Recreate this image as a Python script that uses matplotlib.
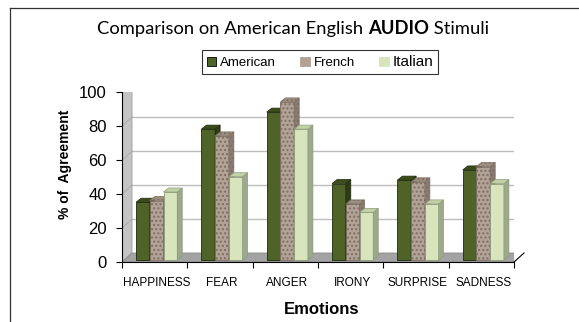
import matplotlib
matplotlib.use("Agg")
import matplotlib.pyplot as plt
from matplotlib.patches import Polygon, Rectangle
from matplotlib.lines import Line2D

# --- data ---
emotions = ["HAPPINESS", "FEAR", "ANGER", "IRONY", "SURPRISE", "SADNESS"]
american = [34, 77, 87, 45, 47, 53]
french = [35, 73, 93, 33, 46, 55]
italian = [40, 49, 77, 28, 33, 45]
series_names = ["American", "French", "Italian"]
y_ticks = [0, 20, 40, 60, 80, 100]

# --- style ---
face = ["#4F6228", "#B3A396", "#D7E4BC"]
side = ["#2F3B15", "#8A7C70", "#9CA98A"]
top = ["#3C4D1C", "#9E8F83", "#C3D1A6"]
hatch = [None, "....", None]
edge = ["#1E2A0A", "#7D6E63", "#8E9A7C"]

W, H, DPI = 579, 322, 100
AX_L, AX_R, AX_B, AX_T = 122, 514, 262, 92  # pixel box of the front plane

fig = plt.figure(figsize=(W / DPI, H / DPI), dpi=DPI)
ax = fig.add_axes([AX_L / W, 1 - AX_B / H, (AX_R - AX_L) / W, (AX_B - AX_T) / H])
ax.set_xlim(0, len(emotions))
ax.set_ylim(0, 100)
ax.patch.set_visible(False)

# pixel -> data scale
n = len(emotions)
kx = n / (AX_R - AX_L)
ky = 100 / (AX_B - AX_T)
wdx, wdy = 10 * kx, 9 * ky      # wall depth
bdx, bdy = 5 * kx, 4 * ky       # bar depth
sx, sy = 2 * kx, 2 * ky         # bar shift into the floor

# side wall, floor, gridlines on back wall
ax.add_patch(Polygon([(0, 0), (0, 100), (wdx, 100 + wdy), (wdx, wdy)],
                     closed=True, facecolor="#C4C4C4", edgecolor="#9A9A9A", lw=0.6, zorder=1))
ax.add_patch(Polygon([(0, 0), (n, 0), (n + wdx, wdy), (wdx, wdy)],
                     closed=True, facecolor="#A3A3A3", edgecolor="#8A8A8A", lw=0.6, zorder=1))
for t in y_ticks[1:]:
    ax.plot([wdx, n + wdx], [t + wdy, t + wdy], color="#BDBDBD", lw=1.0, zorder=0.5)
    ax.plot([0, wdx], [t, t + wdy], color="#A8A8A8", lw=0.6, zorder=1.2)
ax.plot([n + wdx, n + wdx], [wdy, 100 + wdy], color="#BDBDBD", lw=1.0, zorder=0.5)
ax.plot([n, n + wdx], [0, wdy], color="black", lw=0.8, zorder=2, clip_on=False)

# bars (front, side, top faces), drawn left to right
bw = 0.21
series = [american, french, italian]
z = 3
for i in range(n):
    for j, vals in enumerate(series):
        x0 = i + 0.5 + (j - 1) * bw - bw / 2 + sx
        x1 = x0 + bw
        y0, y1 = sy, vals[i] + sy
        ax.add_patch(Rectangle((x0, y0), bw, vals[i], facecolor=face[j], edgecolor=edge[j],
                               hatch=hatch[j], lw=0.6, zorder=z, clip_on=False))
        ax.add_patch(Polygon([(x1, y0), (x1 + bdx, y0 + bdy), (x1 + bdx, y1 + bdy), (x1, y1)],
                             closed=True, facecolor=side[j], edgecolor=edge[j],
                             hatch=hatch[j], lw=0.5, zorder=z, clip_on=False))
        ax.add_patch(Polygon([(x0, y1), (x1, y1), (x1 + bdx, y1 + bdy), (x0 + bdx, y1 + bdy)],
                             closed=True, facecolor=top[j], edgecolor=edge[j],
                             hatch=hatch[j], lw=0.5, zorder=z, clip_on=False))
        z += 1

# axes
for s in ["top", "right"]:
    ax.spines[s].set_visible(False)
for s in ["left", "bottom"]:
    ax.spines[s].set_color("black")
    ax.spines[s].set_linewidth(0.8)
    ax.spines[s].set_zorder(50)

ax.set_yticks(y_ticks)
ax.tick_params(axis="y", direction="out", length=4, width=0.8, pad=7, labelsize=12)
ax.set_xticks(range(n + 1))
ax.set_xticklabels([])
ax.set_xticks([i + 0.5 + sx for i in range(n)], minor=True)
ax.set_xticklabels(emotions, minor=True)
ax.tick_params(axis="x", which="major", direction="out", length=4, width=0.8)
ax.tick_params(axis="x", which="minor", length=0, pad=11, labelsize=8.5)
for lab in ax.get_yticklabels() + ax.get_xticklabels(minor=True):
    lab.set_fontfamily("Liberation Sans")

fig.text(65 / W, 1 - 164 / H, "% of  Agreement", rotation=90, ha="center", va="center",
         fontsize=10, fontweight="bold", family="Liberation Sans")
fig.text(322 / W, 1 - 309 / H, "Emotions", ha="center", va="center",
         fontsize=12, fontweight="bold", family="Liberation Sans")

# title with one bold word
t1 = fig.text(97 / W, 1 - 29 / H, "Comparison on American English ", ha="left", va="center",
              fontsize=13.2, family="Lato")
t2 = ax.annotate("AUDIO", xy=(1, 0.5), xycoords=t1, ha="left", va="center",
                 fontsize=13.2, fontweight="bold", family="Lato")
ax.annotate(" Stimuli", xy=(1, 0.5), xycoords=t2, ha="left", va="center",
            fontsize=13.2, family="Lato")

# legend
handles = [Rectangle((0, 0), 1, 1, facecolor=face[j], edgecolor="black" if j == 0 else face[j],
                     hatch=hatch[j], lw=0.6) for j in range(3)]
leg = fig.legend(handles, series_names, loc="center", bbox_to_anchor=(320 / W, 1 - 62 / H),
                 ncol=3, frameon=True, fancybox=False, handlelength=0.75,
                 handleheight=0.75, handletextpad=0.3, columnspacing=1.8, borderpad=0.35,
                 prop={"family": "Liberation Sans", "size": 9.5})
leg.get_frame().set_edgecolor("black")
leg.get_frame().set_linewidth(0.8)
leg.get_texts()[2].set_fontsize(11)

# outer frame lines (top and left)
fig.add_artist(Line2D([10 / W, 1], [1 - 8 / H, 1 - 8 / H], color="#333333", lw=0.9))
fig.add_artist(Line2D([10 / W, 10 / W], [0, 1 - 8 / H], color="#333333", lw=0.9))

fig.savefig("out.png", dpi=DPI)
